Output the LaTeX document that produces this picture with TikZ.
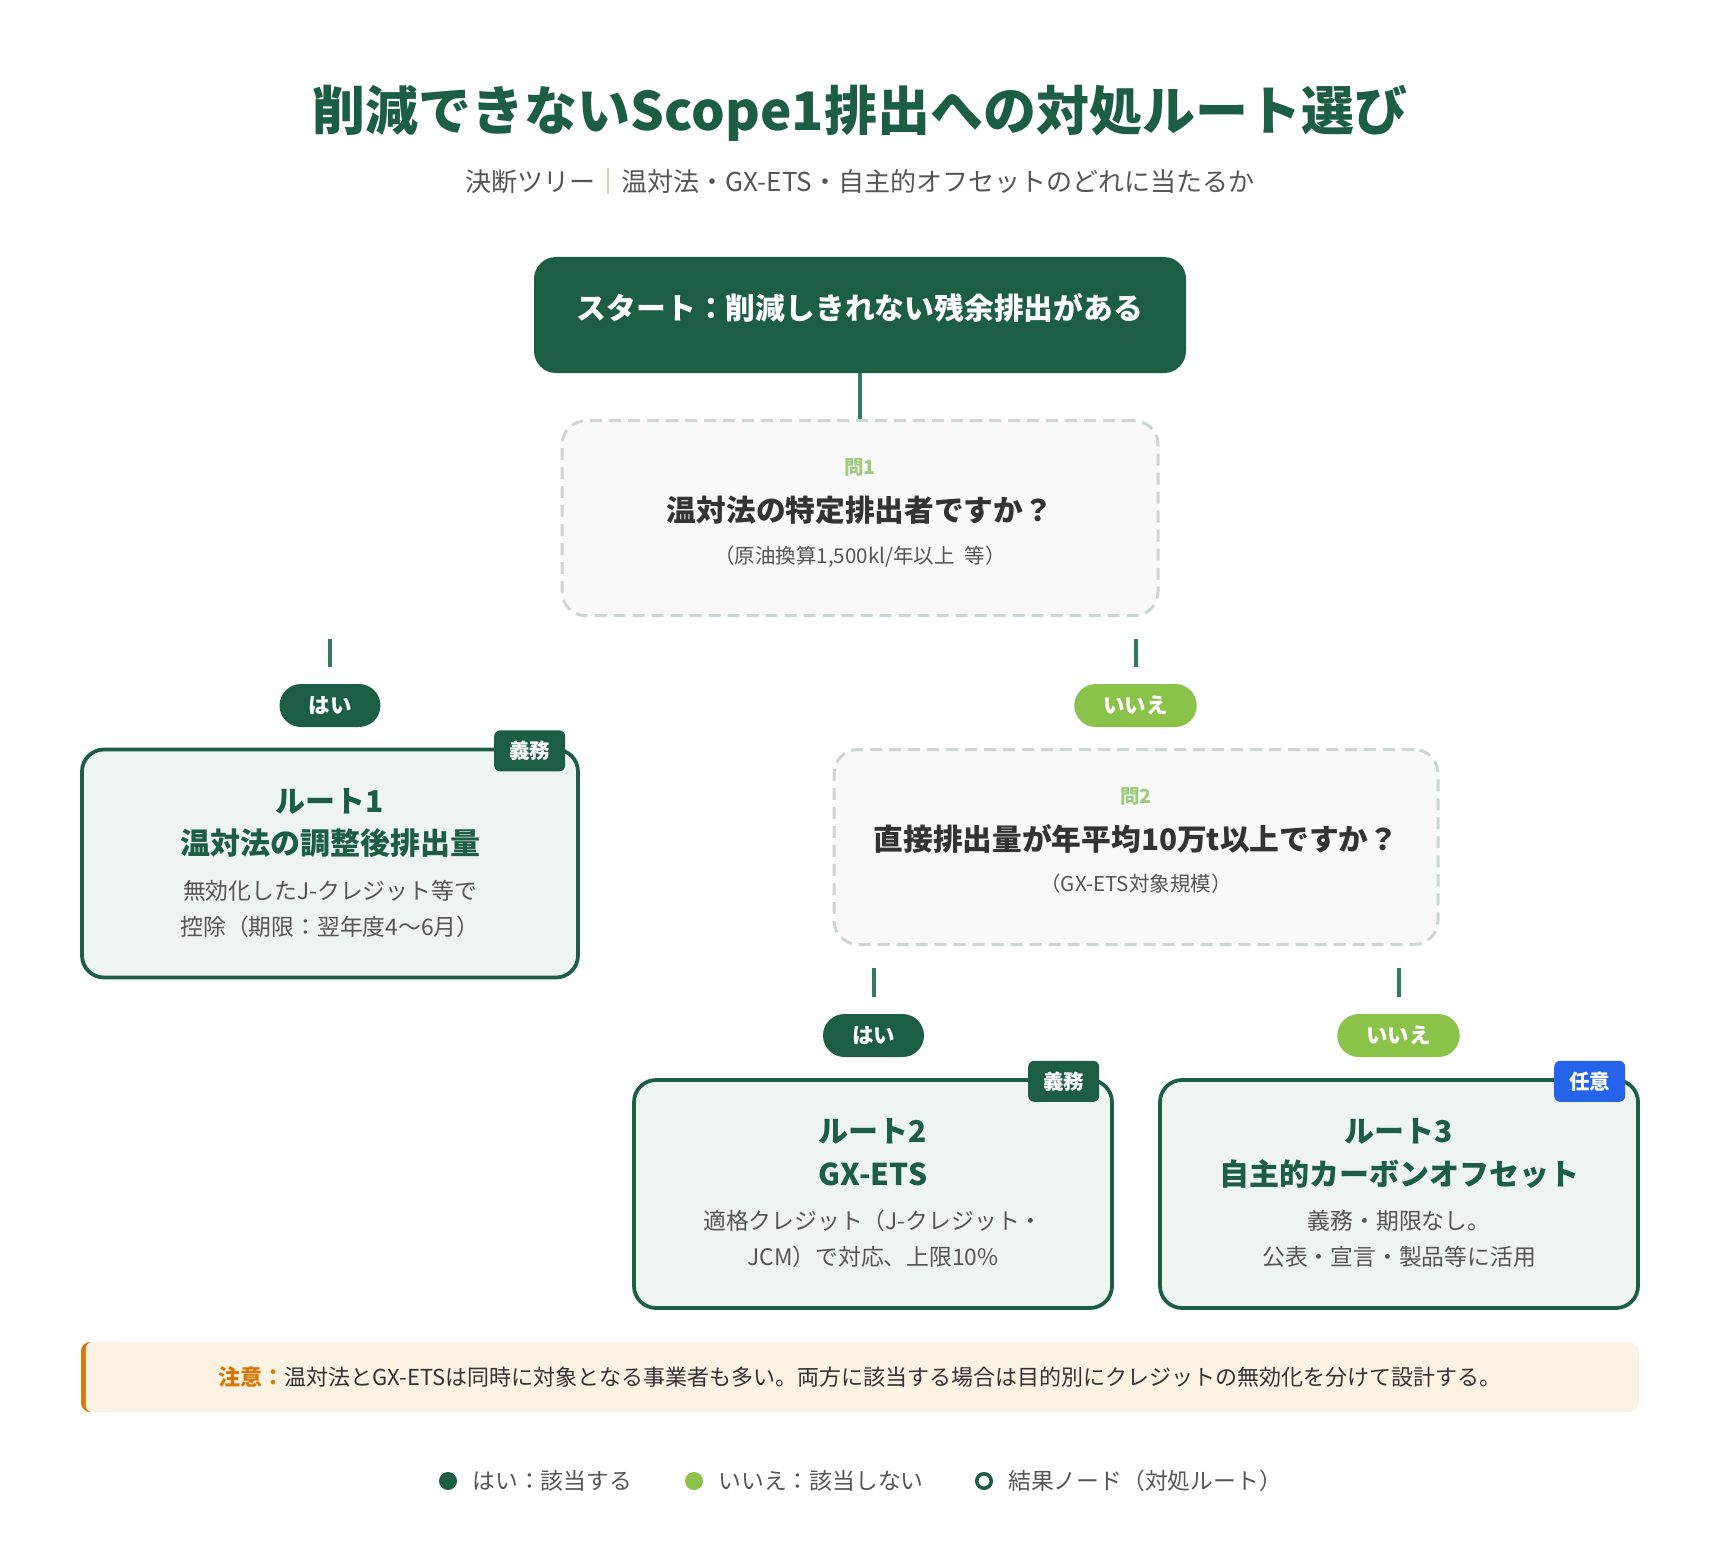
\documentclass[tikz,border=0pt]{standalone}
\usepackage{fontspec}
\setmainfont{Noto Sans CJK JP}
\usetikzlibrary{positioning}

\definecolor{deepgreen}{HTML}{1B5E44}
\definecolor{linkgreen}{HTML}{2E7D5B}
\definecolor{leafgreen}{HTML}{8BC34A}
\definecolor{numgreen}{HTML}{9ECC7E}
\definecolor{dashgray}{HTML}{CDD7D1}
\definecolor{qfill}{HTML}{F9F9F9}
\definecolor{routefill}{HTML}{EEF4EF}
\definecolor{optblue}{HTML}{2563EB}
\definecolor{notebg}{HTML}{FCF2E3}
\definecolor{noteorange}{HTML}{D97706}
\definecolor{inkdark}{HTML}{333333}
\definecolor{inkgray}{HTML}{555555}
\definecolor{bartan}{HTML}{C9A27E}

\newcommand{\setpx}[1]{\fontsize{#1}{0}\selectfont}
\newcommand{\tightlines}{\lineskiplimit=-500pt\relax}
\newcommand{\topgap}[1]{\rule{0pt}{#1}}
\newcommand{\botgap}[1]{\rule[-#1]{0pt}{#1}}
\newcommand{\qnum}[1]{{\color{numgreen}\setpx{19.5}#1}}
\newcommand{\qnote}[1]{{\mdseries\color{inkgray}\setpx{20.5}#1}}
\newcommand{\routenote}[1]{{\mdseries\color{inkgray}\setpx{22.8}#1}}

\begin{document}
\begin{tikzpicture}[
    x=1pt, y=-1pt,
    link/.style={draw=linkgreen, line width=4pt},
    title/.style={text=deepgreen, font=\setpx{53}\bfseries, text height=53pt, text depth=12.7pt},
    subtitle/.style={text=inkgray, font=\setpx{26}, text height=26pt, text depth=6.2pt},
    startbox/.style={fill=deepgreen, text=white, rounded corners=22pt,
        minimum width=652pt, minimum height=116pt, font=\setpx{29.8}\bfseries,
        text height=25pt, text depth=16.6pt},
    qbox/.style={draw=dashgray, fill=qfill, line width=3pt, dash pattern=on 12pt off 7pt,
        rounded corners=24pt, minimum height=195pt, text width=580pt, align=center,
        inner ysep=0pt, text=inkdark, font=\tightlines\setpx{29.7}\bfseries},
    route/.style={draw=deepgreen, fill=routefill, line width=3.75pt, rounded corners=22pt,
        minimum width=478pt, minimum height=228pt, text width=460pt, align=center,
        inner ysep=0pt, text=deepgreen, font=\tightlines\setpx{30}\bfseries},
    pill/.style={rounded corners=21.5pt, minimum height=43pt, inner xsep=29pt, inner ysep=0pt,
        text=white, font=\setpx{21.5}\bfseries, text height=21pt, text depth=5pt},
    pillyes/.style={pill, fill=deepgreen},
    pillno/.style={pill, fill=leafgreen},
    tag/.style={anchor=north east, rounded corners=6pt, minimum height=41pt, inner xsep=15pt,
        inner ysep=0pt, text=white, font=\setpx{20.5}\bfseries, text height=20pt, text depth=4.5pt},
    tagduty/.style={tag, fill=deepgreen},
    tagfree/.style={tag, fill=optblue},
    notebox/.style={fill=notebg, rounded corners=10pt, minimum width=1558pt, minimum height=70pt,
        text=inkdark, font=\setpx{22}, text height=22pt, text depth=5.3pt},
    dot/.style={circle, minimum size=18pt, inner sep=0pt},
    ring/.style={circle, draw=deepgreen, line width=3.5pt, minimum size=14.5pt, inner sep=0pt},
    legend/.style={inner sep=0pt, text=inkgray, font=\setpx{22.8}, text height=23pt, text depth=5.7pt}
]
    \fill[white] (0,0) rectangle (1720,1554);
    \useasboundingbox (0,0) rectangle (1720,1554);

    % Heading
    \node[title] (title) at (860,110) {削減できないScope1排出への対処ルート選び};
    \node[subtitle] (subtitle) at (860,182) {決断ツリー{\color{bartan}｜}温対法・GX-ETS・自主的オフセットのどれに当たるか};

    % Start and questions
    \node[startbox] (start) at (860,315) {スタート：削減しきれない残余排出がある};
    \node[qbox, minimum width=596pt, below=46pt of start] (q1) {\topgap{40pt}\qnum{問1}\\[46.8pt]
        温対法の特定排出者ですか？\\[41.6pt]
        \qnote{（原油換算1,500kl/年以上 等）\botgap{38.6pt}}};
    \node[qbox, minimum width=604pt] (q2) at (1136,847) {\topgap{40pt}\qnum{問2}\\[46.8pt]
        直接排出量が年平均10万t以上ですか？\\[41.6pt]
        \qnote{（GX-ETS対象規模）\botgap{38.6pt}}};

    % Answers
    \node[pillyes] (yes1) at (330,705.5) {はい};
    \node[pillno] (no1) at (1135.5,705.5) {いいえ};
    \node[pillyes] (yes2) at (873.5,1035.5) {はい};
    \node[pillno] (no2) at (1398.5,1035.5) {いいえ};

    % Routes
    \node[route, minimum width=496pt] (route1) at (330,863.5) {\topgap{40pt}ルート1\\[42.8pt]
        温対法の調整後排出量\\[44.3pt]
        \routenote{無効化したJ-クレジット等で}\\[36.2pt]
        \routenote{控除（期限：翌年度4〜6月）\botgap{19.5pt}}};
    \node[route] (route2) at (873,1194) {\topgap{40pt}ルート2\\[42.8pt]
        GX-ETS\\[44.3pt]
        \routenote{適格クレジット（J-クレジット・}\\[36.2pt]
        \routenote{JCM）で対応、上限10\%\botgap{19.5pt}}};
    \node[route] (route3) at (1399,1194) {\topgap{40pt}ルート3\\[42.8pt]
        自主的カーボンオフセット\\[44.3pt]
        \routenote{義務・期限なし。}\\[36.2pt]
        \routenote{公表・宣言・製品等に活用\botgap{19.5pt}}};

    \node[tagduty] (tag1) at ([xshift=-14.5pt, yshift=17.5pt]route1.north east) {義務};
    \node[tagduty] (tag2) at ([xshift=-14.5pt, yshift=17.5pt]route2.north east) {義務};
    \node[tagfree] (tag3) at ([xshift=-14.5pt, yshift=17.5pt]route3.north east) {任意};

    % Connectors
    \draw[link] (start) -- (q1);
    \draw[link] ([yshift=-22pt]q1.south -| yes1) -- ([yshift=17pt]yes1.north);
    \draw[link] ([yshift=-22pt]q1.south -| no1) -- ([yshift=17pt]no1.north);
    \draw[link] ([yshift=-22pt]q2.south -| yes2) -- ([yshift=17pt]yes2.north);
    \draw[link] ([yshift=-22pt]q2.south -| no2) -- ([yshift=17pt]no2.north);

    % Note
    \node[notebox] (note) at (860,1377) {{\color{noteorange}\bfseries 注意：}温対法とGX-ETSは同時に対象となる事業者も多い。両方に該当する場合は目的別にクレジットの無効化を分けて設計する。};
    \begin{scope}
        \clip[rounded corners=10pt] (note.south west) rectangle (note.north east);
        \fill[noteorange] (note.south west) rectangle ([xshift=14pt]note.north west);
        \fill[notebg, rounded corners=7pt] ([xshift=5pt]note.south west) rectangle ([xshift=40pt]note.north west);
    \end{scope}

    % Legend
    \node[dot, fill=deepgreen] (keyyes) at (448,1481) {};
    \node[legend, right=15pt of keyyes] (keyyestext) {はい：該当する};
    \node[dot, fill=leafgreen] (keyno) at (694,1481) {};
    \node[legend, right=15pt of keyno] (keynotext) {いいえ：該当しない};
    \node[ring] (keyroute) at (984,1481) {};
    \node[legend, right=15pt of keyroute] (keyroutetext) {結果ノード（対処ルート）};
\end{tikzpicture}
\end{document}
